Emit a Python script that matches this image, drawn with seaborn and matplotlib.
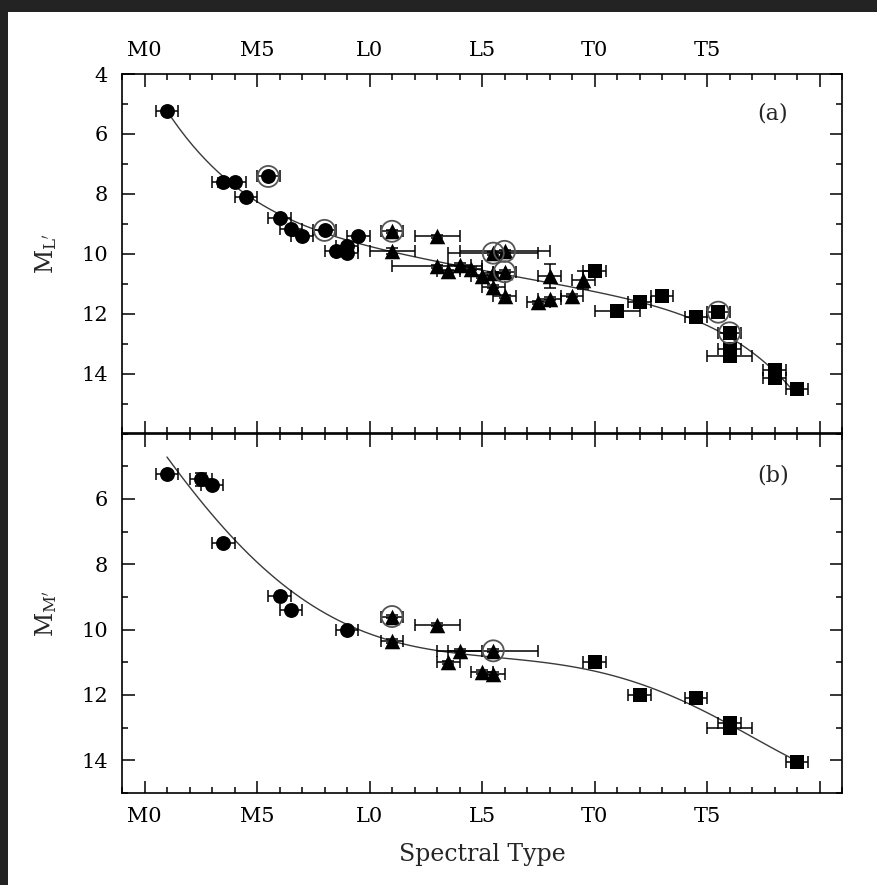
import matplotlib
matplotlib.use("Agg")
import matplotlib.pyplot as plt
from matplotlib.patches import Rectangle
from matplotlib.ticker import MultipleLocator, FixedLocator, FixedFormatter
import numpy as np
import pandas as pd
import seaborn as sns

# Spectral type index: M0 = 0, L0 = 10, T0 = 20
tick_pos = [0, 5, 10, 15, 20, 25, 30]
tick_lab = ["M0", "M5", "L0", "L5", "T0", "T5", ""]

# Panel (a): L' absolute magnitudes
a_spt = [1.0, 3.5, 4.0, 4.5, 5.5, 6.0, 6.5, 7.0, 8.0, 8.5, 9.0, 9.0, 9.5,
         11.0, 11.0, 13.0, 13.0, 13.5, 14.0, 14.5, 15.0, 15.5, 15.5, 15.5, 16.0,
         16.0, 16.0, 17.5, 18.0, 18.0, 19.0, 19.5,
         20.0, 21.0, 22.0, 23.0, 24.5, 25.5, 26.0, 26.0, 26.0, 28.0, 28.0, 29.0]
a_mag = [5.25, 7.62, 7.62, 8.10, 7.42, 8.80, 9.18, 9.40, 9.22, 9.92, 9.75, 9.98, 9.40,
         9.25, 9.90, 9.42, 10.42, 10.58, 10.37, 10.50, 10.75, 10.65, 11.10, 9.98, 9.92,
         10.60, 11.42, 11.62, 11.50, 10.75, 11.40, 10.88,
         10.58, 11.92, 11.62, 11.40, 12.10, 11.95, 12.64, 13.18, 13.42, 13.87, 14.15, 14.52]
a_xerr = [0.5, 0.5, 0.5, 0.5, 0.5, 0.5, 0.5, 0.5, 0.5, 0.5, 0.5, 0.5, 0.5,
          0.5, 1.0, 1.0, 2.0, 0.5, 0.5, 0.5, 0.5, 0.5, 0.5, 2.0, 2.0,
          0.5, 0.5, 0.5, 0.5, 0.5, 0.5, 0.5,
          0.5, 1.0, 0.5, 0.5, 0.5, 0.5, 0.5, 0.5, 1.0, 0.5, 0.5, 0.5]
a_yerr = [0.05, 0.15, 0.05, 0.05, 0.05, 0.05, 0.05, 0.05, 0.05, 0.05, 0.05, 0.05, 0.05,
          0.05, 0.10, 0.05, 0.05, 0.05, 0.05, 0.05, 0.05, 0.05, 0.05, 0.05, 0.05,
          0.05, 0.05, 0.05, 0.05, 0.40, 0.05, 0.30,
          0.05, 0.05, 0.05, 0.15, 0.05, 0.05, 0.05, 0.05, 0.05, 0.05, 0.05, 0.05]
a_cls = ["M"] * 13 + ["L"] * 19 + ["T"] * 12
a_ring = [5.5, 8.0, 11.0, 15.5, 16.0, 16.0, 25.5, 26.0]
a_ring_mag = [7.42, 9.22, 9.25, 9.98, 9.92, 10.60, 11.95, 12.64]

# Panel (b): M' absolute magnitudes
b_spt = [1.0, 2.5, 3.0, 3.5, 6.0, 6.5, 9.0,
         11.0, 11.0, 13.0, 13.5, 14.0, 15.5, 15.0, 15.5,
         20.0, 22.0, 24.5, 26.0, 26.0, 29.0]
b_mag = [5.25, 5.40, 5.58, 7.35, 8.98, 9.40, 10.00,
         9.60, 10.35, 9.85, 11.00, 10.65, 10.65, 11.30, 11.35,
         11.00, 12.00, 12.10, 12.85, 13.00, 14.05]
b_xerr = [0.5, 0.5, 0.5, 0.5, 0.5, 0.5, 0.5,
          0.5, 0.5, 1.0, 0.5, 1.0, 2.0, 0.5, 0.5,
          0.5, 0.5, 0.5, 0.5, 1.0, 0.5]
b_yerr = [0.05, 0.20, 0.05, 0.05, 0.05, 0.05, 0.05,
          0.05, 0.05, 0.05, 0.05, 0.05, 0.05, 0.05, 0.05,
          0.05, 0.05, 0.05, 0.05, 0.05, 0.05]
b_cls = ["M"] * 7 + ["L"] * 8 + ["T"] * 6
b_ring = [11.0, 15.5]
b_ring_mag = [9.60, 10.65]

sns.set_theme(style="white")
plt.rcParams["font.family"] = ["DejaVu Serif"]
plt.rcParams["mathtext.fontset"] = "dejavuserif"

fig = plt.figure(figsize=(8.77, 8.85), dpi=100)
fig.patch.set_facecolor("white")

W, H = 877.0, 885.0
left, right = 122 / W, 842 / W
ax_a = fig.add_axes([left, 1 - 433.5 / H, right - left, (433.5 - 74) / H])
ax_b = fig.add_axes([left, 1 - 793 / H, right - left, (793 - 433.5) / H])

markers = {"M": "o", "L": "^", "T": "s"}
sizes = {"M": 115, "L": 125, "T": 90}


def draw_panel(ax, spt, mag, xerr, yerr, cls, ring_x, ring_y, order):
    df = pd.DataFrame({"spt": spt, "mag": mag, "xerr": xerr, "yerr": yerr, "cls": cls})
    sns.regplot(data=df, x="spt", y="mag", order=order, ci=None, scatter=False,
                truncate=True, ax=ax, line_kws=dict(color="#3a3a3a", lw=1.0, zorder=1))
    ax.errorbar(df["spt"], df["mag"], xerr=df["xerr"], yerr=df["yerr"], fmt="none",
                ecolor="black", elinewidth=1.1, capsize=4, capthick=1.1, zorder=2)
    for c in ["M", "L", "T"]:
        sub = df[df["cls"] == c]
        sns.scatterplot(data=sub, x="spt", y="mag", marker=markers[c], s=sizes[c],
                        color="black", edgecolor="black", linewidth=0, ax=ax,
                        zorder=3, legend=False)
    ax.scatter(ring_x, ring_y, s=230, facecolors="none", edgecolors="#555555",
               linewidths=1.3, zorder=4)


draw_panel(ax_a, a_spt, a_mag, a_xerr, a_yerr, a_cls, a_ring, a_ring_mag, 5)
draw_panel(ax_b, b_spt, b_mag, b_xerr, b_yerr, b_cls, b_ring, b_ring_mag, 5)

for ax in (ax_a, ax_b):
    ax.set_xlim(-1, 31)
    ax.xaxis.set_major_locator(FixedLocator(tick_pos))
    ax.xaxis.set_major_formatter(FixedFormatter(tick_lab))
    ax.xaxis.set_minor_locator(MultipleLocator(1))
    ax.yaxis.set_minor_locator(MultipleLocator(1))
    ax.tick_params(which="both", direction="in", top=True, bottom=True,
                   left=True, right=True, colors="black", labelsize=15)
    ax.tick_params(which="major", length=9, width=1.1, pad=10)
    ax.tick_params(which="minor", length=4.5, width=1.1)
    for s in ax.spines.values():
        s.set_linewidth(1.2)
        s.set_color("black")
    ax.set_facecolor("white")

ax_a.set_ylim(16, 4)
ax_a.set_yticks([4, 6, 8, 10, 12, 14])
ax_a.tick_params(axis="x", labeltop=True, labelbottom=False)
ax_a.set_xlabel("")
ax_a.set_ylabel(r"$\mathrm{M}_{\mathrm{L}'}$", fontsize=17)

ax_b.set_ylim(15, 4)
ax_b.set_yticks([6, 8, 10, 12, 14])
ax_b.tick_params(axis="x", labeltop=False, labelbottom=True)
ax_b.set_xlabel("Spectral Type", fontsize=17, labelpad=12)
ax_b.set_ylabel(r"$\mathrm{M}_{\mathrm{M}'}$", fontsize=17)

for ax in (ax_a, ax_b):
    ax.yaxis.set_label_coords(-0.087, 0.5)

ax_a.text(0.904, 0.889, "(a)", transform=ax_a.transAxes, fontsize=16,
          ha="center", va="center")
ax_b.text(0.904, 0.882, "(b)", transform=ax_b.transAxes, fontsize=16,
          ha="center", va="center")

# dark frame along the top and left edges
fig.add_artist(Rectangle((0, 1 - 12 / H), 1, 12 / H, transform=fig.transFigure,
                         color="#232323", lw=0, zorder=10))
fig.add_artist(Rectangle((0, 0), 8 / W, 1, transform=fig.transFigure,
                         color="#232323", lw=0, zorder=10))

fig.savefig("out.png", dpi=100, facecolor="white")
